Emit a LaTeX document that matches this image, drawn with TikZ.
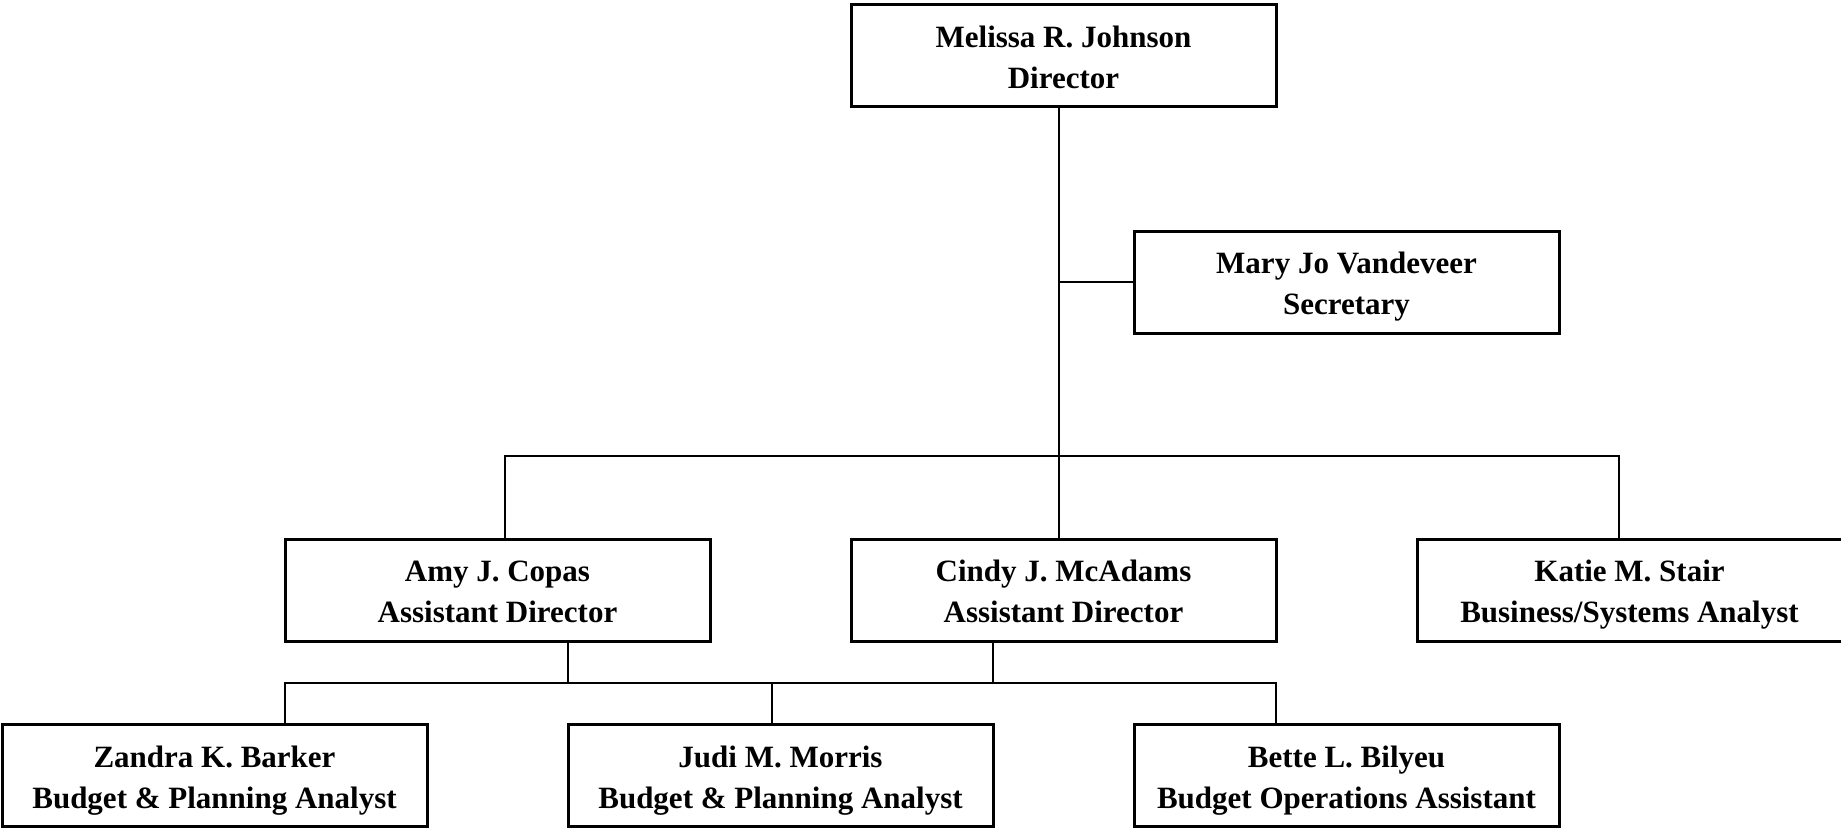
\documentclass[tikz,border=0pt]{standalone}
\usepackage{fontspec}
\setmainfont{Liberation Serif}

\begin{document}
\begin{tikzpicture}[x=1pt,y=-1pt,
    post/.style={draw,line width=3pt,minimum width=425pt,minimum height=102pt,inner sep=0pt,
        text height=70pt,text depth=5pt,
        align=center,font=\fontsize{31}{41}\selectfont\bfseries},
    link/.style={line width=2.6pt}]
            \useasboundingbox (0,0) rectangle (1841,829);

            \node[post] (dir) at (1063.5,56) {Melissa R. Johnson\\Director};
            \node[post] (sec) at (1346.5,282) {Mary Jo Vandeveer\\Secretary};
            \node[post] (amy) at (497.5,590) {Amy J. Copas\\Assistant Director};
            \node[post] (cindy) at (1063.5,590) {Cindy J. McAdams\\Assistant Director};
            \node[post] (katie) at (1629.5,590) {Katie M. Stair\\Business/Systems Analyst};
            \node[post] (zandra) at (214.5,775.5) {Zandra K. Barker\\Budget \& Planning Analyst};
            \node[post] (judi) at (780.5,775.5) {Judi M. Morris\\Budget \& Planning Analyst};
            \node[post] (bette) at (1346.5,775.5) {Bette L. Bilyeu\\Budget Operations Assistant};

            \coordinate (bus) at (1059,456);
            \coordinate (amybus) at (505,456);
            \coordinate (katiebus) at (1619,456);
            \coordinate (abus) at (568,683);
            \coordinate (cbus) at (993,683);
            \coordinate (zbus) at (285,683);
            \coordinate (jbus) at (772,683);
            \coordinate (bbus) at (1276,683);

            \draw[link] (bus |- dir.south) -- (bus) -- (bus |- cindy.north);
            \draw[link] (bus |- sec.west) -- (sec.west);
            \draw[link] (amybus |- amy.north) -- (amybus) -- (katiebus) -- (katiebus |- katie.north);

            \draw[link] (amy.south -| abus) -- (abus);
            \draw[link] (cindy.south -| cbus) -- (cbus);
            \draw[link] (zbus |- zandra.north) -- (zbus) -- (bbus) -- (bbus |- bette.north);
            \draw[link] (jbus) -- (jbus |- judi.north);
\end{tikzpicture}
\end{document}
